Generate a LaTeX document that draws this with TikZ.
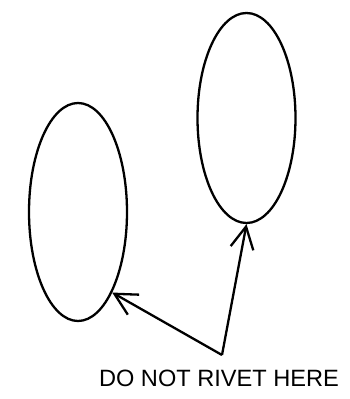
\documentclass[tikz,border=0pt]{standalone}
\usepackage{fontspec}
\setmainfont{Liberation Sans}
\usetikzlibrary{shapes.geometric,arrows.meta}
\begin{document}
\begin{tikzpicture}[x=1pt, y=1pt, line width=2.3pt,
    rivet/.style={ellipse, draw, inner sep=0pt, minimum width=98pt, minimum height=218pt},
    pointer/.style={-{Straight Barb[length=22pt, width=23pt, line width=2.3pt]}, line join=miter},
    font=\fontsize{23.6}{28}\selectfont]
    \useasboundingbox (0,0) rectangle (350,399);
    % Ellipsen
    \node[rivet] (left) at (78,187) {};
    \node[rivet, minimum height=210pt] (right) at (246.5,281) {};

    % Hinweis
    \coordinate (apex) at (222,44);
    \node[inner sep=0pt] (note) at (219,21) {DO NOT RIVET HERE};
    \draw[pointer] (apex) -- (left.-67);
    \draw[pointer] (apex) -- (right.south);
  \end{tikzpicture}
\end{document}
